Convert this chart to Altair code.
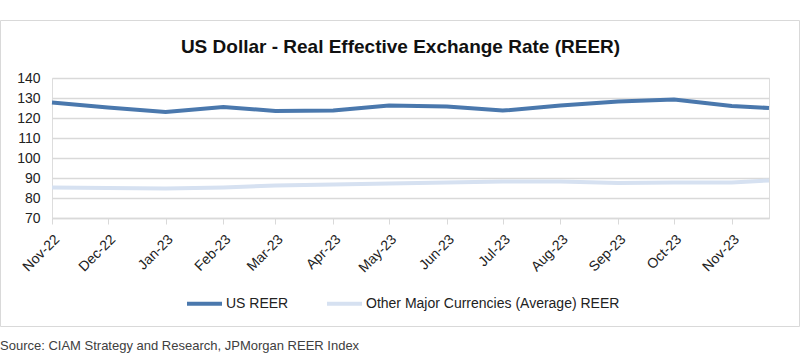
import altair as alt
import pandas as pd

# ---- data ----
dates = ["2022-11-01", "2022-12-01", "2023-01-01", "2023-02-01", "2023-03-01",
         "2023-04-01", "2023-05-01", "2023-06-01", "2023-07-01", "2023-08-01",
         "2023-09-01", "2023-10-01", "2023-11-01", "2023-11-21"]
us_reer = [127.8, 125.3, 123.0, 125.5, 123.5, 123.8, 126.2, 125.8, 123.7,
           126.2, 128.3, 129.3, 126.0, 125.0]
other_reer = [85.3, 85.0, 84.7, 85.3, 86.2, 86.7, 87.2, 87.8, 88.2, 88.2,
              87.5, 87.7, 87.7, 88.8]
series_names = ["US REER", "Other Major Currencies (Average) REER"]
series_colors = ["#4a78ad", "#d6e1f1"]
tick_dates = dates[:13]
y_ticks = [70, 80, 90, 100, 110, 120, 130, 140]
title_text = "US Dollar - Real Effective Exchange Rate (REER)"
source_text = ["Source: CIAM Strategy and Research, JPMorgan REER Index"]

FONT = "Liberation Sans"

df = pd.DataFrame({
    "date": dates * 2,
    "value": us_reer + other_reer,
    "series": [series_names[0]] * len(dates) + [series_names[1]] * len(dates),
})

lines = alt.Chart(df).mark_line(strokeWidth=4).encode(
    x=alt.X("date:T",
            scale=alt.Scale(domain=[dates[0], dates[-1]], nice=False),
            axis=alt.Axis(values=tick_dates, format="%b-%y", labelAngle=-45,
                          labelAlign="right", labelBaseline="top",
                          labelFontSize=14, labelColor="#222222", labelFont=FONT,
                          labelPadding=8, labelOverlap=False,
                          ticks=True, tickSize=6, tickColor="#d9d9d9",
                          domainColor="#d9d9d9", domainWidth=1.5,
                          grid=False, title=None)),
    y=alt.Y("value:Q",
            scale=alt.Scale(domain=[70, 140], nice=False, zero=False),
            axis=alt.Axis(values=y_ticks, labelFontSize=14, labelColor="#222222",
                          labelFont=FONT, labelPadding=12, ticks=False,
                          domain=False, grid=True, gridColor="#d9d9d9",
                          gridWidth=1.5, title=None)),
    color=alt.Color("series:N",
                    scale=alt.Scale(domain=series_names, range=series_colors),
                    sort=series_names,
                    legend=alt.Legend(orient="none", legendX=133, legendY=206,
                                      direction="horizontal", title=None,
                                      symbolType="stroke", symbolSize=1225,
                                      symbolStrokeWidth=4, labelFontSize=14,
                                      labelFont=FONT, labelColor="#222222",
                                      labelOffset=2, columnPadding=30,
                                      labelLimit=0)),
)

frame_df = pd.DataFrame({"k": [0]})
frame = alt.Chart(frame_df).mark_rect(fillOpacity=0, stroke="#d9d9d9",
                                      strokeWidth=1).encode(
    x=alt.value(-51.5), x2=alt.value(747.5),
    y=alt.value(-57.5), y2=alt.value(248.5),
)

source = alt.Chart(pd.DataFrame({"t": source_text})).mark_text(
    align="left", baseline="middle", fontSize=13, font=FONT, color="#404040"
).encode(
    text="t:N", x=alt.value(-52), y=alt.value(268),
)

chart = alt.layer(frame, lines, source).properties(
    width=717, height=140,
    title=alt.TitleParams(title_text, fontSize=19, font=FONT,
                          fontWeight="bold", color="#111111",
                          anchor="middle", frame="group", dx=-10, offset=-37),
    autosize=alt.AutoSizeParams(type="none"),
    padding={"left": 52, "top": 78, "right": 31, "bottom": 137},
).configure_view(stroke=None).configure(background="white")

chart.save("out.html", embed_options={"renderer": "svg", "actions": False})
